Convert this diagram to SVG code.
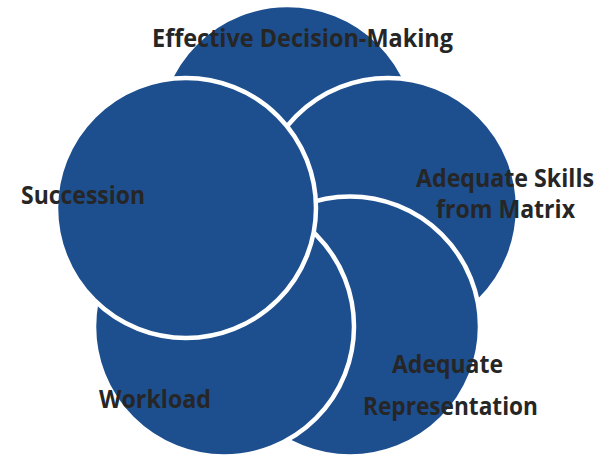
<svg xmlns="http://www.w3.org/2000/svg" width="609" height="456" viewBox="0 0 609 456">
  <style>
    .petal { fill: #1D4F8F; stroke: #FFFFFF; stroke-width: 4.5; }
    .label { font-family: "Open Sans", "Liberation Sans", sans-serif; font-weight: 700; font-size: 25px; fill: #262626; }
  </style>
  <rect width="609" height="456" fill="#FFFFFF"/>
  <!-- five overlapping circles on a pentagon, drawn in stacking order -->
  <g id="effective-decision-making">
    <circle class="petal" cx="287.5" cy="135" r="130"/>
  </g>
  <g id="adequate-skills">
    <circle class="petal" cx="388" cy="208" r="130"/>
  </g>
  <g id="adequate-representation">
    <circle class="petal" cx="350" cy="326.5" r="130"/>
  </g>
  <g id="workload">
    <circle class="petal" cx="224" cy="326.5" r="130"/>
  </g>
  <g id="succession">
    <circle class="petal" cx="186" cy="208" r="130"/>
  </g>
  <g id="connectors"/>
  <!-- labels -->
  <g id="labels">
    <text class="label" x="152" y="47" textLength="301" lengthAdjust="spacingAndGlyphs">Effective Decision-Making</text>
    <text class="label" x="416" y="187" textLength="178" lengthAdjust="spacingAndGlyphs">Adequate Skills</text>
    <text class="label" x="436" y="218" textLength="139" lengthAdjust="spacingAndGlyphs">from Matrix</text>
    <text class="label" x="21" y="204" textLength="124" lengthAdjust="spacingAndGlyphs">Succession</text>
    <text class="label" x="99" y="408" textLength="112" lengthAdjust="spacingAndGlyphs">Workload</text>
    <text class="label" x="392" y="373" textLength="111" lengthAdjust="spacingAndGlyphs">Adequate</text>
    <text class="label" x="363" y="415" textLength="175" lengthAdjust="spacingAndGlyphs">Representation</text>
  </g>
</svg>
